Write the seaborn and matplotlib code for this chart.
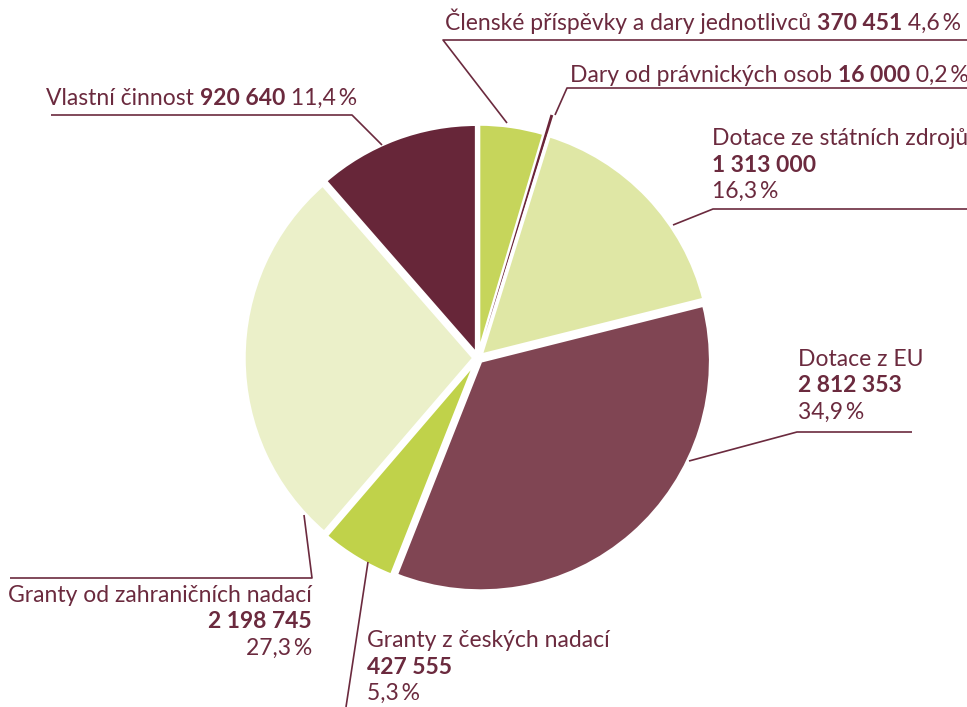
import matplotlib
matplotlib.use("Agg")
import matplotlib.pyplot as plt
import seaborn as sns

# data (clockwise from 12 o'clock)
categories = [
    "Členské příspěvky a dary jednotlivců",
    "Dary od právnických osob",
    "Dotace ze státních zdrojů",
    "Dotace z EU",
    "Granty z českých nadací",
    "Granty od zahraničních nadací",
    "Vlastní činnost",
]
amounts = [370451, 16000, 1313000, 2812353, 427555, 2198745, 920640]
colors = ["#c6d55b", "#6b2539", "#dfe7a5", "#804553", "#c0d24a", "#ebf0c9", "#672639"]

sns.set_theme(style="white")
plt.rcParams["font.family"] = ["Lato", "DejaVu Sans"]

txt_col = "#6b2a3e"
fs = 16.5

total = sum(amounts)
num_str = [f"{a:,}".replace(",", " ") for a in amounts]
pct_str = [f"{a / total * 100:.1f}".replace(".", ",") + "\u2009%" for a in amounts]

fig = plt.figure(figsize=(9.67, 7.07), dpi=100)
ax = fig.add_axes([0, 0, 1, 1])

# y axis is flipped (pixel-like coords), so counterclock=True draws clockwise on screen
# explode is in data units (pixels here)
explode = [4, 24, 4, 4, 4, 4, 4]
wedges, _ = ax.pie(amounts, colors=sns.color_palette(colors), startangle=-90,
                   counterclock=True, center=(478, 358), radius=230, explode=explode,
                   wedgeprops=dict(edgecolor="white", linewidth=2.5))
wedges[1].set_linewidth(0)  # tiny sliver, keep it visible
ax.set_xlim(0, 967)
ax.set_ylim(707, 0)
ax.set_aspect("auto")
ax.axis("off")


def inline_label(x, y, parts):
    # parts: list of (text, weight) drawn one after another on one line
    t = ax.text(x, y, parts[0][0], fontsize=fs, color=txt_col, fontweight=parts[0][1],
                va="baseline", ha="left")
    for s, w in parts[1:]:
        t = ax.annotate(s, xy=(1, 0), xycoords=t, fontsize=fs, color=txt_col,
                        fontweight=w, va="bottom", ha="left")
    return t


def block_label(x, y, i, ha="left", gap=26.5):
    ax.text(x, y, categories[i], fontsize=fs, color=txt_col, ha=ha, va="baseline")
    ax.text(x, y + gap, num_str[i], fontsize=fs, color=txt_col, ha=ha, va="baseline",
            fontweight="bold")
    ax.text(x, y + 2 * gap, pct_str[i], fontsize=fs, color=txt_col, ha=ha, va="baseline")


def leader(xs, ys):
    ax.plot(xs, ys, color=txt_col, lw=1.2, solid_capstyle="butt")


# one-line labels
for i, (x, y) in zip([0, 1, 6], [(445, 30), (570, 82), (46, 105)]):
    inline_label(x, y, [(categories[i] + " ", "normal"), (num_str[i], "bold"),
                        (" " + pct_str[i], "normal")])

block_label(712, 145, 2)
block_label(798, 366, 3)
block_label(367, 647, 4)
block_label(312, 602, 5, ha="right")

# leader lines
leader([967, 443, 507], [40, 40, 123])
leader([967, 567, 555], [88, 88, 115])
leader([967, 713, 673], [209, 209, 225])
leader([912, 797, 689], [432, 432, 461])
leader([346, 368], [707, 562])
leader([10, 312, 304], [578, 578, 515])
leader([51, 352, 382], [115, 115, 145])

fig.savefig("out.png", dpi=100, facecolor="white")
